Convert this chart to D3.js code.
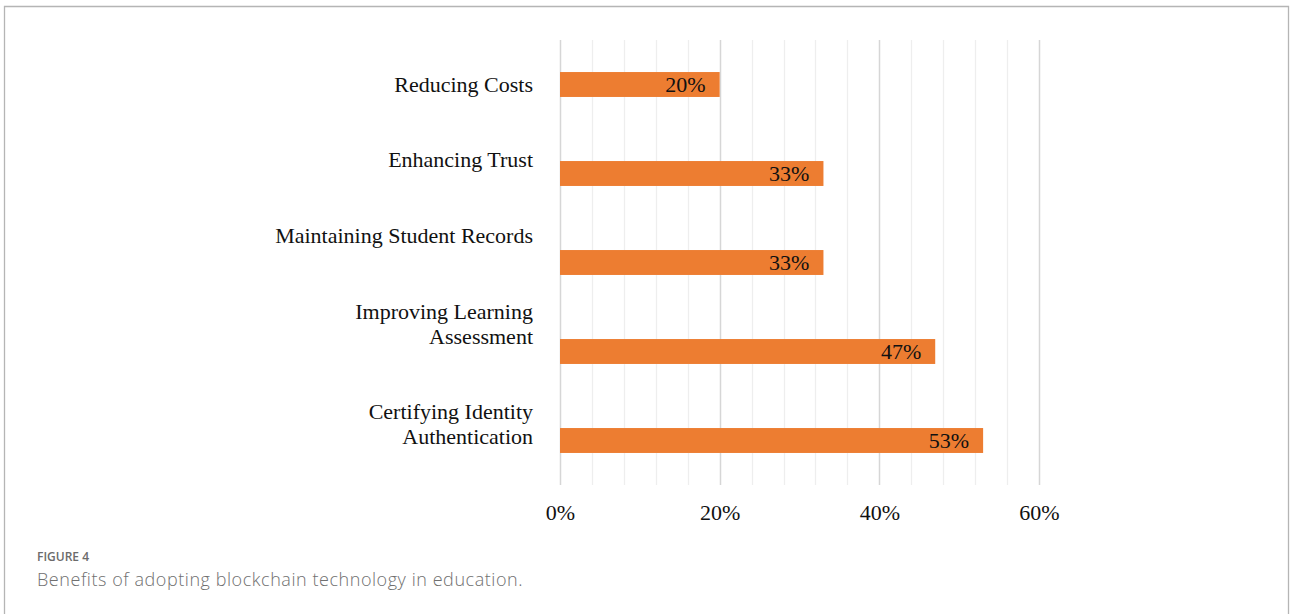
<!DOCTYPE html>
<html>
<head>
<meta charset="utf-8">
<script src="https://cdn.jsdelivr.net/npm/d3@7/dist/d3.min.js"></script>
<style>
  html, body { margin: 0; padding: 0; background: #fff; }
  svg { display: block; }
</style>
</head>
<body>
<svg id="chart" width="1290" height="614"></svg>
<script>
// Survey results: share of respondents naming each benefit
const categories = [
  "Reducing Costs",
  "Enhancing Trust",
  "Maintaining Student Records",
  "Improving Learning Assessment",
  "Certifying Identity Authentication"
];
const values = [20, 33, 33, 47, 53];
const majorTicks = [0, 20, 40, 60];
const minorTicks = d3.range(0, 61, 4);
const figureLabel = "FIGURE 4";
const caption = "Benefits of adopting blockchain technology in education.";

// Category labels wrap onto two lines the way the source layout does
const labelLines = [
  ["Reducing Costs"],
  ["Enhancing Trust"],
  ["Maintaining Student Records"],
  ["Improving Learning", "Assessment"],
  ["Certifying Identity", "Authentication"]
];

const svg = d3.select("#chart");
const serif = "'Liberation Serif', 'Times New Roman', serif";

// Figure frame (open at the bottom)
svg.append("path")
  .attr("d", "M4.5,614 V6.5 H1288.5 V614")
  .attr("fill", "none")
  .attr("stroke", "#b5b5b5")
  .attr("stroke-width", 1.3);

const plot = { left: 560, right: 1039, top: 40, bottom: 485 };

const x = d3.scaleLinear().domain([0, 60]).range([plot.left, plot.right]);
const y = d3.scaleBand().domain(categories).range([plot.top, plot.bottom]).paddingInner(0.72).paddingOuter(0.36);

// Gridlines: light minor lines every 4%, darker major lines every 20%
svg.append("g").selectAll("line")
  .data(minorTicks.filter(t => t % 20 !== 0))
  .join("line")
  .attr("x1", d => Math.round(x(d)) + 0.5)
  .attr("x2", d => Math.round(x(d)) + 0.5)
  .attr("y1", plot.top)
  .attr("y2", plot.bottom)
  .attr("stroke", "#eeeeee")
  .attr("stroke-width", 1.3);

svg.append("g").selectAll("line")
  .data(majorTicks)
  .join("line")
  .attr("x1", d => Math.round(x(d)) + 0.5)
  .attr("x2", d => Math.round(x(d)) + 0.5)
  .attr("y1", plot.top)
  .attr("y2", plot.bottom)
  .attr("stroke", "#d6d6d6")
  .attr("stroke-width", 1.5);

// Bars
svg.append("g").selectAll("rect")
  .data(categories)
  .join("rect")
  .attr("x", x(0))
  .attr("y", d => y(d))
  .attr("width", (d, i) => x(values[i]) - x(0))
  .attr("height", y.bandwidth())
  .attr("fill", "#ED7D31");

// Value labels inside bar ends
svg.append("g").selectAll("text")
  .data(categories)
  .join("text")
  .attr("x", (d, i) => x(values[i]) - 14)
  .attr("y", d => y(d) + y.bandwidth() / 2)
  .attr("dy", "0.36em")
  .attr("text-anchor", "end")
  .attr("font-family", serif)
  .attr("font-size", 22)
  .attr("fill", "#111")
  .text((d, i) => values[i] + "%");

// Category labels, lifted above band centre as in the source layout
const labelShift = [0, -14, -27, -27.5, -17];
const lineGap = 25;
const catG = svg.append("g")
  .attr("font-family", serif)
  .attr("font-size", 22)
  .attr("fill", "#111")
  .attr("text-anchor", "end");
categories.forEach((c, i) => {
  const lines = labelLines[i];
  const cy = y(c) + y.bandwidth() / 2 + labelShift[i];
  const t = catG.append("text")
    .attr("x", 533)
    .attr("y", cy - (lines.length - 1) * lineGap / 2);
  lines.forEach((ln, k) => {
    t.append("tspan")
      .attr("x", 533)
      .attr("dy", k === 0 ? "0.35em" : lineGap)
      .text(ln);
  });
});

// Axis tick labels
const axis = d3.axisBottom(x).tickValues(majorTicks).tickFormat(d => d + "%").tickSize(0).tickPadding(0);
const axG = svg.append("g").attr("transform", `translate(0, ${plot.bottom + 27})`).call(axis);
axG.select(".domain").remove();
axG.selectAll("text")
  .attr("font-family", serif)
  .attr("font-size", 22)
  .attr("fill", "#111")
  .attr("dy", "0.35em")
  .attr("y", 0);

// Caption
svg.append("text")
  .attr("x", 37)
  .attr("y", 561)
  .attr("font-family", "'Open Sans', sans-serif")
  .attr("font-size", 12)
  .attr("font-weight", 600)
  .attr("fill", "#6b6b6b")
  .text(figureLabel);

svg.append("text")
  .attr("x", 37)
  .attr("y", 586)
  .attr("font-family", "'Open Sans', sans-serif")
  .attr("font-size", 18)
  .attr("font-weight", 300)
  .attr("letter-spacing", 0.55)
  .attr("fill", "#707070")
  .text(caption);
</script>
</body>
</html>
